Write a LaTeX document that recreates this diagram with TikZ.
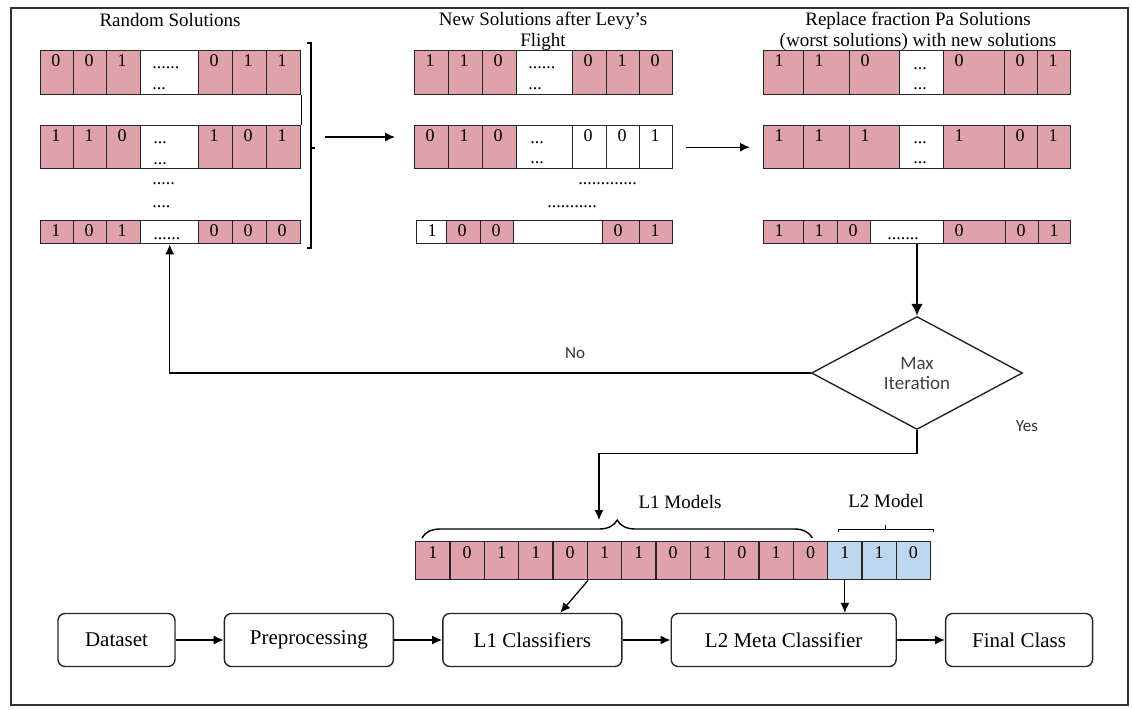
\documentclass[tikz,border=0pt]{standalone}
\usepackage{fontspec}
\setmainfont{Liberation Serif}
\newfontfamily\calib{Carlito}
\usepackage{tikz}
\usetikzlibrary{arrows.meta,positioning,shapes.geometric,decorations.pathreplacing}
\definecolor{pk}{RGB}{224,162,170}
\definecolor{blu}{RGB}{189,215,238}

\begin{document}
\begin{tikzpicture}[x=0.5pt,y=-0.5pt,node distance=24pt,
cell/.style={draw=black!85,line width=0.7pt,inner sep=0,anchor=north west},
bit/.style={inner sep=0,font=\fontsize{9}{9}\selectfont},
dotrun/.style={inner sep=0,anchor=base west,font=\fontsize{9}{9}\selectfont},
ttl/.style={align=center,inner sep=0,font=\fontsize{9.5}{10.5}\selectfont},
lbl/.style={inner sep=0,font=\fontsize{9.5}{10.5}\selectfont},
stage/.style={draw=black!85,line width=0.7pt,rounded corners=3.5pt,minimum height=26.5pt,font=\fontsize{10.5}{12}\selectfont},
flow/.style={-{Latex[length=5pt,width=4.5pt]},line width=0.65pt},
bigflow/.style={-{Latex[length=6pt,width=6pt]},line width=1.4pt},
decide/.style={diamond,draw=black!85,line width=0.7pt,minimum width=105.5pt,minimum height=56.5pt,inner sep=0,aspect=1.87,align=center,text=black!75,font=\calib\fontsize{9.5}{10}\selectfont},
remark/.style={inner sep=0,text=black!80,font=\calib\fontsize{8.5}{10}\selectfont},
brc/.style={decorate,decoration={brace,amplitude=9pt},line width=0.7pt}]
\useasboundingbox (0,0) rectangle (1132,709);
\draw[draw=black!80,line width=0.9pt] (11,8) rectangle (1128,705);
% titles
\node[ttl] (t1) at (170,20) {Random Solutions};
\node[ttl] (t2) at (543,31) {New Solutions after Levy's\\Flight};
\node[ttl] (t3) at (918,31) {Replace fraction Pa Solutions\\(worst solutions) with new solutions};
% random solutions
\foreach \x/\w/\v/\f [count=\i] in {40/33/0/pk,73/33/0/pk,106/34/1/pk,140/58/{}/white,198/34/0/pk,232/34/1/pk,266/34/1/pk}{
  \node[cell,fill=\f,minimum width=\w*0.5pt,minimum height=22pt] (rsa\i) at (\x,50) {};
  \node[bit] (rsa\i-v) at ([shift={(16,11)}]rsa\i.north west) {\v};
}
\foreach \x/\w/\v/\f [count=\i] in {40/33/1/pk,73/33/1/pk,106/34/0/pk,140/58/{}/white,198/34/1/pk,232/34/0/pk,266/34/1/pk}{
  \node[cell,fill=\f,minimum width=\w*0.5pt,minimum height=21.5pt] (rsb\i) at (\x,125) {};
  \node[bit] (rsb\i-v) at ([shift={(16,11)}]rsb\i.north west) {\v};
}
\foreach \x/\w/\v/\f [count=\i] in {40/33/1/pk,73/33/0/pk,106/34/1/pk,140/58/{}/white,198/34/0/pk,232/34/0/pk,266/34/0/pk}{
  \node[cell,fill=\f,minimum width=\w*0.5pt,minimum height=11.5pt] (rsc\i) at (\x,220) {};
  \node[bit] (rsc\i-v) at ([shift={(16,11)}]rsc\i.north west) {\v};
}
% new solutions
\foreach \x/\w/\v/\f [count=\i] in {414/34/1/pk,448/34/1/pk,482/34/0/pk,516/56/{}/white,572/34/0/pk,606/33/1/pk,639/33/0/pk}{
  \node[cell,fill=\f,minimum width=\w*0.5pt,minimum height=22pt] (nsa\i) at (\x,50) {};
  \node[bit] (nsa\i-v) at ([shift={(16,11)}]nsa\i.north west) {\v};
}
\foreach \x/\w/\v/\f [count=\i] in {414/34/0/pk,448/34/1/pk,482/34/0/pk,516/56/{}/white,572/34/0/white,606/33/0/white,639/33/1/white}{
  \node[cell,fill=\f,minimum width=\w*0.5pt,minimum height=21.5pt] (nsb\i) at (\x,125) {};
  \node[bit] (nsb\i-v) at ([shift={(16,11)}]nsb\i.north west) {\v};
}
\foreach \x/\w/\v/\f [count=\i] in {416/30/1/white,446/34/0/pk,480/33/0/pk,513/89/{}/white,602/37/0/pk,639/33/1/pk}{
  \node[cell,fill=\f,minimum width=\w*0.5pt,minimum height=11.5pt] (nsc\i) at (\x,220) {};
  \node[bit] (nsc\i-v) at ([shift={(16,11)}]nsc\i.north west) {\v};
}
% replaced solutions
\foreach \x/\w/\v/\f [count=\i] in {763/40/1/pk,803/46/1/pk,849/50/0/pk,899/44/{}/white,943/61/0/pk,1004/33/0/pk,1037/33/1/pk}{
  \node[cell,fill=\f,minimum width=\w*0.5pt,minimum height=22pt] (rpa\i) at (\x,50) {};
  \node[bit] (rpa\i-v) at ([shift={(16,11)}]rpa\i.north west) {\v};
}
\foreach \x/\w/\v/\f [count=\i] in {763/40/1/pk,803/46/1/pk,849/50/1/pk,899/44/{}/white,943/61/1/pk,1004/33/0/pk,1037/33/1/pk}{
  \node[cell,fill=\f,minimum width=\w*0.5pt,minimum height=21.5pt] (rpb\i) at (\x,125) {};
  \node[bit] (rpb\i-v) at ([shift={(16,11)}]rpb\i.north west) {\v};
}
\foreach \x/\w/\v/\f [count=\i] in {763/40/1/pk,803/34/1/pk,837/33/0/pk,870/73/{}/white,943/62/0/pk,1005/33/0/pk,1038/32/1/pk}{
  \node[cell,fill=\f,minimum width=\w*0.5pt,minimum height=11.5pt] (rpc\i) at (\x,220) {};
  \node[bit] (rpc\i-v) at ([shift={(16,11)}]rpc\i.north west) {\v};
}
% dots
\foreach \x/\y/\t [count=\k] in {152/67/{......},152/88/{...},153/142/{...},153/163/{...},152/183/{.....},152/206/{....},153/238/{......},
  528/67/{......},528/88/{...},530/142/{...},530/162/{...},578/183/{.............},547/206/{...........},
  913/68/{...},913/88/{...},913/142/{...},913/162/{...},887/238/{.......}}
  \node[dotrun] (dt\k) at (\x,\y+1) {\t};
\draw[line width=0.7pt] (rsa7.south east) -- (rsb7.north east);
\coordinate (brk) at (311,148);
\draw[line width=0.6pt] (307,43) -- (311,43) -- (311,248) -- (307,248);
\draw[line width=0.6pt] (brk) -- ++(4,0);
\coordinate (a1s) at (325,137);
\draw[flow,shorten >=9.5pt] (a1s) -- (a1s -| nsb1.west);
\draw[flow,shorten <=6.5pt,shorten >=6.5pt] (nsb7.east) -- (rpb1.west);
% loop test
\node[decide] (maxit) at (917,373) {Max\\Iteration};
\draw[bigflow] (maxit.north |- rpc4.south) -- (maxit.north);
\draw[flow] (maxit.west) -| (rsc4.south);
\node[remark] (no) at (575,353) {No};
\node[remark] (yes) at (1027,426) {Yes};
% selected models
\foreach \v/\f [count=\i] in {1/pk,0/pk,1/pk,1/pk,0/pk,1/pk,1/pk,0/pk,1/pk,0/pk,1/pk,0/pk,1/blu,1/blu,0/blu}{
  \node[cell,fill=\f,minimum width=17.17pt,minimum height=19pt] (gn\i) at (415+34.33*\i-34.33,541) {};
  \node[bit] (gn\i-v) at ([yshift=-6pt]gn\i.north) {\v};
}
\draw[brc] ([shift={(7,-3)}]gn1.north west) -- ([shift={(-16,-3)}]gn12.north east);
\node[lbl] (l1m) at (680,502) {L1 Models};
\draw[line width=0.5pt] ([shift={(12,-9)}]gn13.north west) -- ++(0,-3) -| ([shift={(2,-9)}]gn15.north east);
\draw[line width=0.5pt] ([shift={(6,-12)}]gn14.north) -- ++(0,-4);
\node[lbl] (l2m) at (886,501) {L2 Model};
\coordinate (l1in) at (599,520);
\draw[flow] (maxit.south) -- ++(0,23) -| (l1in);
% pipeline
\node[stage,minimum width=58.5pt] (data) at (116.5,640) {Dataset};
\node[stage,minimum width=84.5pt,right=of data] (prep) {Preprocessing};
\node[stage,minimum width=89.5pt,right=of prep] (l1cls) {L1 Classifiers};
\node[stage,minimum width=112.5pt,right=of l1cls] (l2cls) {L2 Meta Classifier};
\node[stage,minimum width=73.5pt,right=of l2cls] (final) {Final Class};
\draw[flow] (data)--(prep);
\draw[flow] (prep)--(l1cls);
\draw[flow] (l1cls)--(l2cls);
\draw[flow] (l2cls)--(final);
\draw[flow] (gn5.south east) -- ([xshift=14pt]l1cls.north);
\draw[flow] (gn13.south) -- (gn13.south |- l2cls.north);
\end{tikzpicture}
\end{document}
